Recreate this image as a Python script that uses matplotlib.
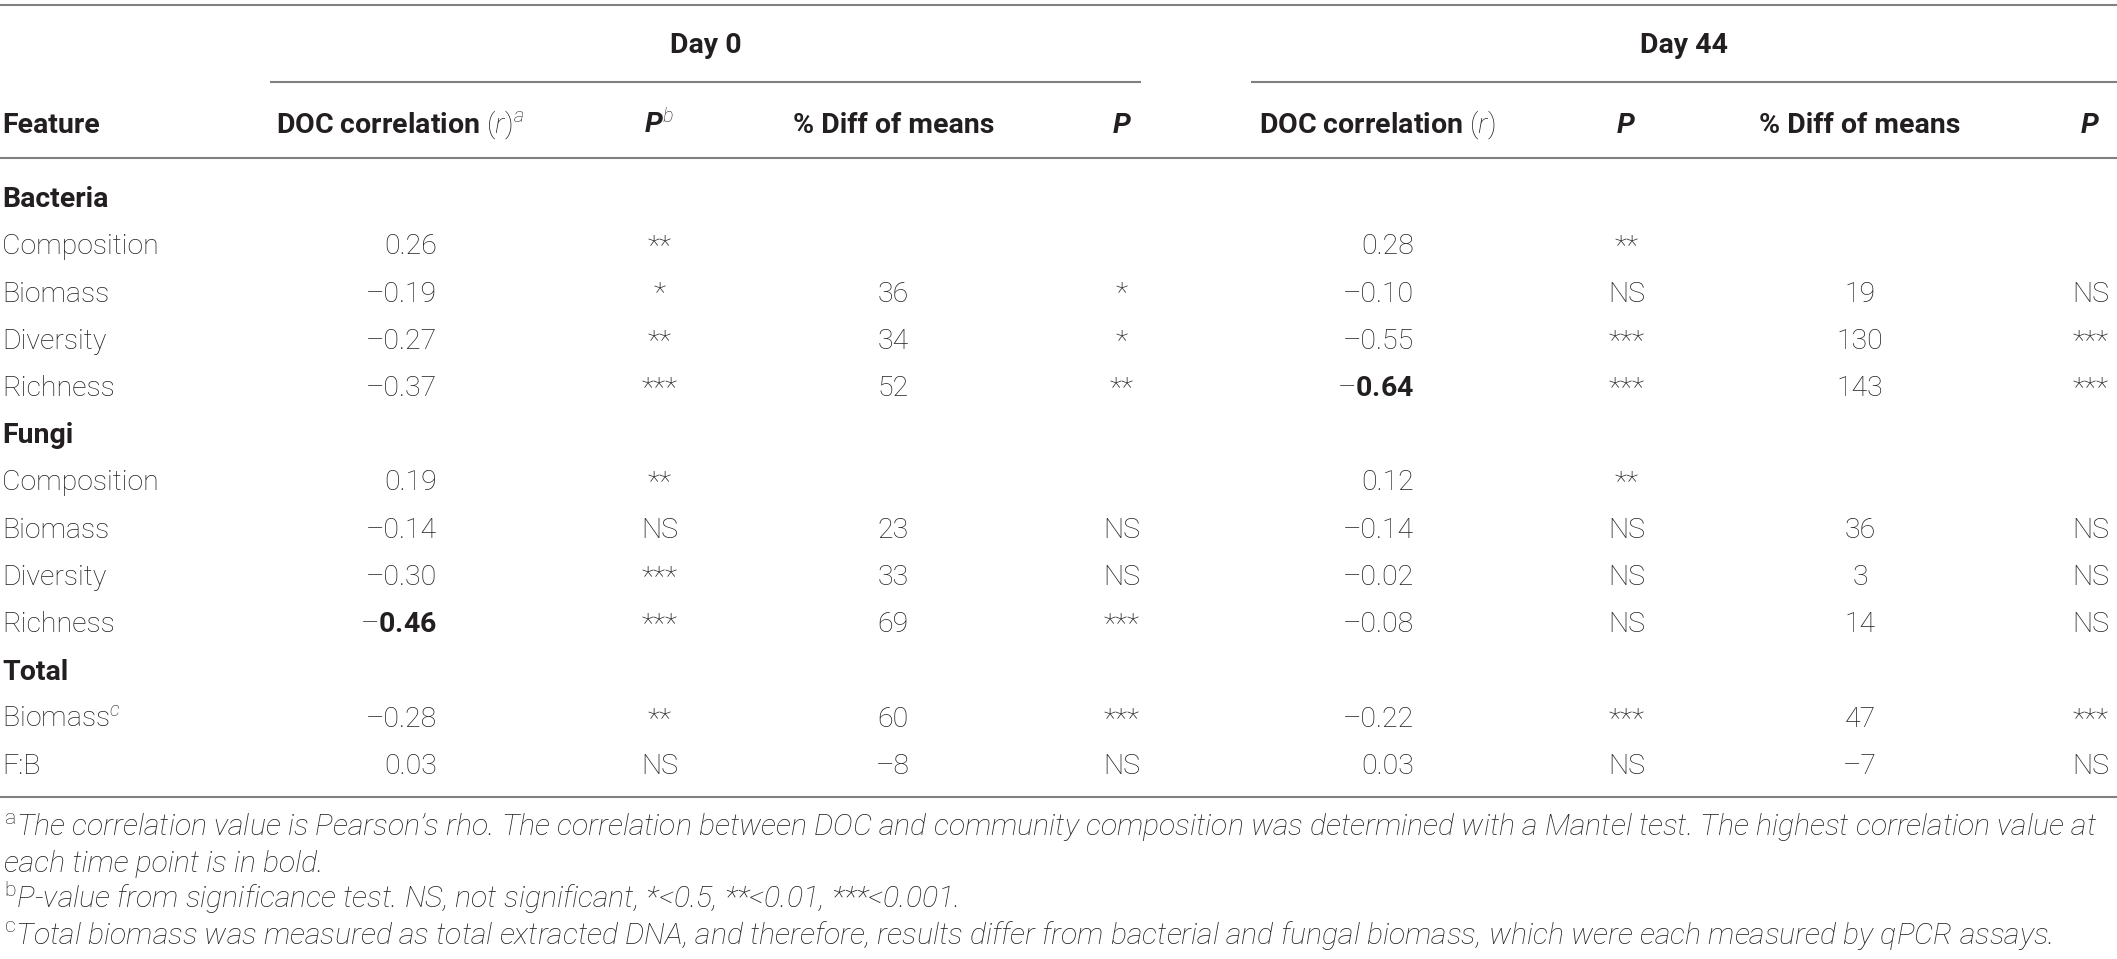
import matplotlib
matplotlib.use('Agg')
import matplotlib.pyplot as plt
from matplotlib import font_manager


def pick_font(names):
    for n in names:
        try:
            font_manager.findfont(n, fallback_to_default=False)
            return n
        except Exception:
            pass
    return 'DejaVu Sans'


FONT = pick_font(['Roboto', 'Liberation Sans'])
plt.rcParams['font.family'] = FONT
plt.rcParams['mathtext.fontset'] = 'custom'
plt.rcParams['mathtext.rm'] = FONT + ':weight=light'
plt.rcParams['mathtext.it'] = FONT + ':style=italic:weight=light'
plt.rcParams['mathtext.bf'] = FONT + ':weight=bold'

# table data
groups = ['Bacteria', 'Fungi', 'Total']
features = [['Composition', 'Biomass', 'Diversity', 'Richness'],
            ['Composition', 'Biomass', 'Diversity', 'Richness'],
            ['Biomass$^{\\mathit{c}}$', 'F:B']]

d0_r = [[0.26, -0.19, -0.27, -0.37], [0.19, -0.14, -0.30, -0.46], [-0.28, 0.03]]
d0_p = [['**', '*', '**', '***'], ['**', 'NS', '***', '***'], ['**', 'NS']]
d0_diff = [[None, 36, 34, 52], [None, 23, 33, 69], [60, -8]]
d0_p2 = [[None, '*', '*', '**'], [None, 'NS', 'NS', '***'], ['***', 'NS']]

d44_r = [[0.28, -0.10, -0.55, -0.64], [0.12, -0.14, -0.02, -0.08], [-0.22, 0.03]]
d44_p = [['**', 'NS', '***', '***'], ['**', 'NS', 'NS', 'NS'], ['***', 'NS']]
d44_diff = [[None, 19, 130, 143], [None, 36, 3, 14], [47, -7]]
d44_p2 = [[None, 'NS', '***', '***'], [None, 'NS', 'NS', 'NS'], ['***', 'NS']]

days = ['Day 0', 'Day 44']
headers = ['Feature',
           'DOC correlation $(\\mathit{r})^{\\mathit{a}}$', 'P$^{\\mathit{b}}$', '% Diff of means', 'P',
           'DOC correlation $(\\mathit{r})$', 'P', '% Diff of means', 'P']

footnotes = [
    '$^{\\mathrm{a}}$The correlation value is Pearson\u2019s rho. The correlation between DOC and community '
    'composition was determined with a Mantel test. The highest correlation value at',
    'each time point is in bold.',
    '$^{\\mathrm{b}}$P-value from significance test. NS, not significant, *<0.5, **<0.01, ***<0.001.',
    '$^{\\mathrm{c}}$Total biomass was measured as total extracted DNA, and therefore, results differ from '
    'bacterial and fungal biomass, which were each measured by qPCR assays.',
]

# layout (pixels)
W, H = 2117, 959
TXT = '#231f20'
LINE = '#808080'
FS = 20.5

fig = plt.figure(figsize=(W / 100, H / 100), dpi=100)
ax = fig.add_axes([0, 0, 1, 1])
ax.set_xlim(0, W)
ax.set_ylim(H, 0)
ax.axis('off')

x_feat = 2
r_right = [437, 1414]
p_c = [660, 1627]
diff_c = [893, 1860]
p2_c = [1122, 2091]
head_x = [x_feat, 400, 659, 894, 1122, 1377, 1626, 1860, 2090]
day_x = [706, 1684]
under = [(270, 1141), (1251, 2117)]

# rules
for y in [5, 158, 797]:
    ax.plot([0, W], [y, y], color=LINE, lw=1.5, solid_capstyle='butt')
for a, b in under:
    ax.plot([a, b], [82, 82], color=LINE, lw=1.5, solid_capstyle='butt')

BASE = 10  # baseline offset from visual centre

for d, x in zip(days, day_x):
    ax.text(x, 43 + BASE, d, ha='center', va='baseline', fontsize=FS, fontweight='bold', color=TXT)

for i, (h, x) in enumerate(zip(headers, head_x)):
    ha = 'left' if i == 0 else 'center'
    style = 'italic' if h.startswith('P') else 'normal'
    ax.text(x, 123 + BASE, h, ha=ha, va='baseline', fontsize=FS, fontweight='bold',
            fontstyle=style, color=TXT)


def fmt_num(v, dec):
    s = f'{abs(v):.{dec}f}'
    return ('\u2013' + s) if v < 0 else s


# strongest correlation per day shown in bold
best = []
for day_r in [d0_r, d44_r]:
    flat = [v for g in day_r for v in g]
    best.append(max(flat, key=abs))

row_y0, row_h = 197, 47.25
k = 0
for gi, g in enumerate(groups):
    y = row_y0 + k * row_h
    ax.text(x_feat, y + BASE, g, ha='left', va='baseline', fontsize=FS, fontweight='bold', color=TXT)
    k += 1
    for fi, f in enumerate(features[gi]):
        y = row_y0 + k * row_h + BASE
        ax.text(x_feat, y, f, ha='left', va='baseline', fontsize=FS, fontweight='light', color=TXT)
        cols = [(d0_r, d0_p, d0_diff, d0_p2), (d44_r, d44_p, d44_diff, d44_p2)]
        for di, (rr, pp, dd, pp2) in enumerate(cols):
            v = rr[gi][fi]
            if v == best[di]:
                s = ('\u2013' if v < 0 else '') + '$\\mathbf{' + f'{abs(v):.2f}' + '}$'
            else:
                s = fmt_num(v, 2)
            ax.text(r_right[di], y, s, ha='right', va='baseline', fontsize=FS,
                    fontweight='light', color=TXT)
            ax.text(p_c[di], y, pp[gi][fi], ha='center', va='baseline', fontsize=FS,
                    fontweight='light', color=TXT)
            if dd[gi][fi] is not None:
                ax.text(diff_c[di], y, fmt_num(dd[gi][fi], 0), ha='center', va='baseline',
                        fontsize=FS, fontweight='light', color=TXT)
            if pp2[gi][fi] is not None:
                ax.text(p2_c[di], y, pp2[gi][fi], ha='center', va='baseline', fontsize=FS,
                        fontweight='light', color=TXT)
        k += 1

# footnotes, sized so the first line fills the width
foot_y = [826, 862, 898, 934]
foot_x = [4, 4, 4, 4]
fts = []
for t, x, y in zip(footnotes, foot_x, foot_y):
    fts.append(ax.text(x, y + BASE, t, ha='left', va='baseline', fontsize=FS,
                       fontstyle='italic', fontweight='light', color=TXT))
fig.canvas.draw()
wid = fts[0].get_window_extent().width
scale = (2103 - 4) / wid
for t in fts:
    t.set_fontsize(FS * scale)

fig.savefig('out.png', dpi=100)
